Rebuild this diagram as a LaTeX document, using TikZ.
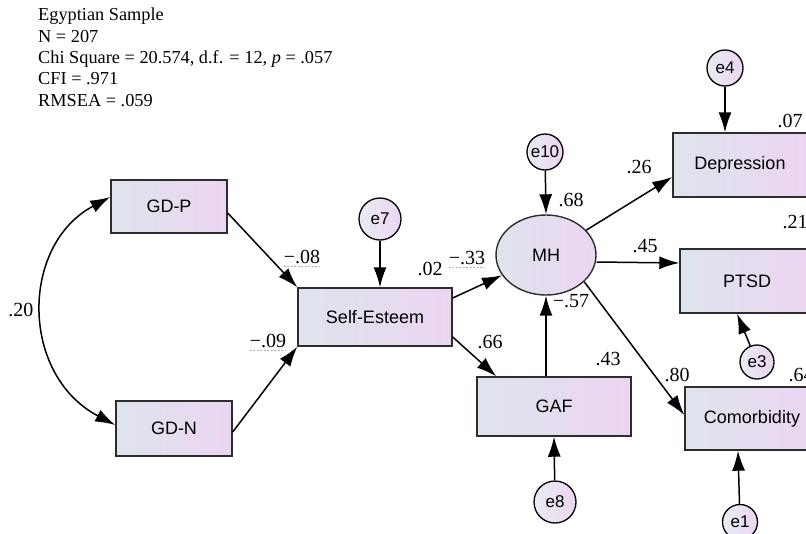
\documentclass[tikz,border=0pt]{standalone}
\usepackage{fontspec}
\setmainfont{Liberation Serif}
\setsansfont{Liberation Sans}
\usetikzlibrary{shapes.geometric,arrows.meta}

\definecolor{fillleft}{RGB}{222,228,236}
\definecolor{fillright}{RGB}{236,213,243}
\definecolor{edgegray}{RGB}{45,45,45}

\tikzset{
  obsvar/.style={rectangle, draw=edgegray, line width=1.4pt, left color=fillleft, right color=fillright,
    inner sep=0pt, font=\sffamily\fontsize{18}{20}\selectfont},
  latvar/.style={ellipse, draw=edgegray, line width=1.4pt, left color=fillleft, right color=fillright,
    inner sep=0pt, minimum width=100pt, minimum height=80pt, font=\sffamily\fontsize{18}{20}\selectfont},
  errvar/.style={circle, draw=black, line width=1.3pt, left color=fillleft!70!white, right color=fillright,
    inner sep=0pt, minimum size=36pt, font=\sffamily\fontsize{17}{18}\selectfont},
  regline/.style={line width=1.5pt, -{Latex[length=20pt,width=13pt]}},
  covline/.style={line width=1.5pt, {Latex[length=20pt,width=13pt]}-{Latex[length=20pt,width=13pt]}},
  coef/.style={inner sep=0pt, font=\fontsize{20}{22}\selectfont},
  underl/.style={gray!60, dashed, line width=0.5pt, dash pattern=on 2pt off 1.5pt}
}

\begin{document}
\begin{tikzpicture}[x=1pt,y=-1pt]
  \useasboundingbox (0,0) rectangle (806,533);
  \clip (0,0) rectangle (806,533);

  % Fit information
  \node[anchor=north west, align=left, inner sep=0pt, font=\fontsize{18.3}{21.3}\selectfont] (info) at (38,8)
    {Egyptian Sample\\N = 207\\Chi Square = 20.574, d.f. = 12, \textit{p} = .057\\CFI = .971\\RMSEA = .059};

  % Observed variables
  \node[obsvar, minimum width=116pt, minimum height=53pt] (gdp) at (169,206.5) {GD-P};
  \node[obsvar, minimum width=116pt, minimum height=55pt] (gdn) at (174,428.5) {GD-N};
  \node[obsvar, minimum width=154pt, minimum height=58pt] (se) at (375,317) {Self-Esteem};
  \node[obsvar, minimum width=154pt, minimum height=59pt] (gaf) at (554,406.5) {GAF};
  \node[obsvar, minimum width=134pt, minimum height=64pt] (dep) at (740,165) {Depression};
  \node[obsvar, minimum width=134pt, minimum height=64pt] (ptsd) at (747,281) {PTSD};
  \node[obsvar, minimum width=134pt, minimum height=63pt] (com) at (752,418.5) {Comorbidity};

  % Latent variable
  \node[latvar] (mh) at (546,255) {MH};

  % Error terms
  \node[errvar, minimum size=42pt] (e7) at (380,219) {e7};
  \node[errvar, minimum size=42pt] (e8) at (555,502) {e8};
  \node[errvar] (e10) at (545,152) {e10};
  \node[errvar] (e4) at (725,68) {e4};
  \node[errvar, minimum size=34pt] (e3) at (757,362) {e3};
  \node[errvar, minimum size=35pt] (e1) at (740,522) {e1};

  % Paths
  \draw[covline] ([yshift=9.5pt]gdp.west) .. controls (20,245) and (20,375) .. ([yshift=3.5pt]gdn.west);
  \draw[regline] ([yshift=-6.5pt]gdp.east) -- (se.north west);
  \draw[regline] ([yshift=-3.5pt]gdn.east) -- (se.south west);
  \draw[regline] ([yshift=19pt]se.east) -- (mh);
  \draw[regline] ([yshift=-20pt]se.east) -- ([xshift=20pt]gaf.north west);
  \draw[regline] (mh.south |- gaf.north) -- (mh.south);
  \draw[regline] (mh) -- ([yshift=-12pt]dep.west);
  \draw[regline] ([yshift=-7pt]mh.east) -- ([yshift=18pt]ptsd.west);
  \draw[regline] (mh.-35) -- ([yshift=3.5pt]com.west);

  % Error paths
  \draw[regline] (e7) -- (e7 |- se.north);
  \draw[regline] (e8) -- (gaf.south);
  \draw[regline] (e10) -- (mh.north);
  \draw[regline] (e4) -- (e4 |- dep.north);
  \draw[regline] (e3) -- ([xshift=-10pt]ptsd.south);
  \draw[regline] (e1) -- ([xshift=-14pt]com.south);

  % Coefficients
  \node[coef] (c20) at (21,310) {.20};
  \node[coef] (c08) at (302,257) {−.08};
  \node[coef] (c09) at (268,341) {−.09};
  \node[coef] (c02) at (430,269) {.02};
  \node[coef] (c33) at (467,258) {−.33};
  \node[coef] (c66) at (490,342) {.66};
  \node[coef] (c57) at (571,301) {−.57};
  \node[coef] (c43) at (608,359) {.43};
  \node[coef] (c45) at (645,246) {.45};
  \node[coef] (c68) at (571,200) {.68};
  \node[coef] (c26) at (639,167) {.26};
  \node[coef] (c07) at (790,121) {.07};
  \node[coef] (c21) at (795,222) {.21};
  \node[coef] (c80) at (677,375) {.80};
  \node[coef] (c64) at (801,375) {.64};

  % Faint underlines
  \foreach \c in {c08,c09,c33}
    \draw[underl] ([yshift=-3pt]\c.base west) -- ([yshift=-3pt]\c.base east);
\end{tikzpicture}
\end{document}
